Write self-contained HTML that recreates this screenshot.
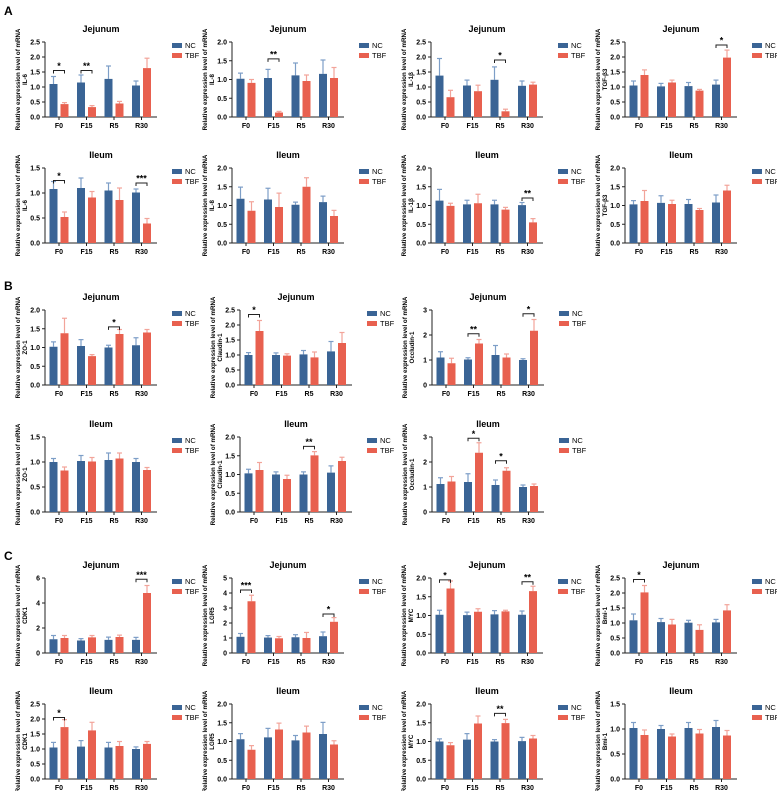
<!DOCTYPE html>
<html><head><meta charset="utf-8"><style>
body{margin:0;background:#fff;}
svg{display:block;font-family:"Liberation Sans",Arial,sans-serif;}
</style></head><body>
<svg id="fig" width="777" height="791" viewBox="0 0 777 791" xmlns="http://www.w3.org/2000/svg">
<text x="4" y="15" font-size="12" font-weight="bold">A</text>
<text x="4" y="290" font-size="12" font-weight="bold">B</text>
<text x="4" y="560" font-size="12" font-weight="bold">C</text>
</svg>
<script>
const categories = ["F0","F15","R5","R30"];
const titles = ["Jejunum","Jejunum","Jejunum","Jejunum","Ileum","Ileum","Ileum","Ileum",
"Jejunum","Jejunum","Jejunum","Ileum","Ileum","Ileum",
"Jejunum","Jejunum","Jejunum","Jejunum","Ileum","Ileum","Ileum","Ileum"];
const genes = ["IL-6","IL-8","IL-1β","TGF-β3","IL-6","IL-8","IL-1β","TGF-β3",
"ZO-1","Claudin-1","Occludin-1","ZO-1","Claudin-1","Occludin-1",
"CDK1","LGR5","MYC","Bmi-1","CDK1","LGR5","MYC","Bmi-1"];
const yMax = [2.5,2,2.5,2.5,1.5,2,2,2, 2,2.5,3,1.5,2,3, 6,5,2,2.5,2.5,2,2,1.5];
const yStep = [.5,.5,.5,.5,.5,.5,.5,.5, .5,.5,1,.5,.5,1, 2,1,.5,.5,.5,.5,.5,.5];
const ncMean = [
[1.1,1.15,1.27,1.05],[1.02,1.04,1.11,1.15],[1.38,1.05,1.24,1.04],[1.05,1.02,1.03,1.08],
[1.08,1.1,1.05,1.01],[1.18,1.16,1.02,1.09],[1.13,1.03,1.03,1.01],[1.03,1.07,1.04,1.08],
[1.02,1.04,1.0,1.06],[1.0,1.0,1.02,1.12],[1.1,1.02,1.2,1.0],
[1.0,1.02,1.04,1.0],[1.03,1.0,1.0,1.05],[1.12,1.2,1.08,1.0],
[1.1,1.0,1.05,1.05],[1.08,1.03,1.05,1.12],[1.02,1.01,1.03,1.02],[1.09,1.03,1.01,1.02],
[1.05,1.08,1.05,1.0],[1.06,1.11,1.03,1.2],[1.0,1.05,1.0,1.01],[1.02,1.0,1.02,1.04]];
const ncErr = [
[.25,.25,.43,.15],[.15,.23,.33,.37],[.57,.18,.43,.16],[.15,.1,.12,.15],
[.15,.2,.15,.07],[.31,.3,.07,.16],[.3,.11,.11,.07],[.1,.19,.12,.2],
[.13,.17,.06,.2],[.08,.07,.13,.33],[.23,.07,.38,.05],
[.07,.11,.14,.07],[.11,.07,.07,.18],[.25,.33,.2,.08],
[.3,.15,.22,.2],[.22,.13,.17,.28],[.12,.08,.1,.1],[.21,.12,.08,.1],
[.17,.2,.17,.07],[.15,.24,.13,.31],[.07,.16,.05,.1],[.11,.07,.11,.13]];
const tbfMean = [
[.43,.33,.45,1.63],[.91,.12,.96,1.04],[.66,.86,.19,1.08],[1.4,1.15,.88,1.98],
[.52,.91,.86,.39],[.86,.96,1.5,.72],[.99,1.06,.89,.55],[1.12,1.04,.88,1.4],
[1.38,.77,1.36,1.4],[1.8,.98,.92,1.4],[.87,1.66,1.1,2.17],
[.83,1.01,1.07,.84],[1.12,.88,1.51,1.36],[1.22,2.37,1.65,1.04],
[1.2,1.25,1.28,4.8],[3.45,.98,1.0,2.08],[1.72,1.1,1.11,1.65],[2.02,.95,.77,1.42],
[1.73,1.62,1.1,1.17],[.78,1.32,1.24,.92],[.9,1.48,1.49,1.08],[.88,.85,.91,.87]];
const tbfErr = [
[.05,.05,.07,.33],[.09,.03,.16,.28],[.23,.2,.07,.08],[.17,.08,.04,.25],
[.1,.12,.24,.1],[.24,.37,.24,.15],[.07,.24,.06,.1],[.28,.1,.04,.14],
[.4,.04,.12,.08],[.35,.06,.18,.35],[.2,.16,.14,.45],
[.07,.08,.11,.05],[.2,.1,.1,.1],[.2,.4,.12,.08],
[.2,.15,.15,.6],[.4,.12,.37,.28],[.2,.08,.03,.13],[.23,.17,.17,.19],
[.25,.27,.15,.08],[.11,.17,.17,.1],[.07,.2,.1,.08],[.1,.05,.08,.1]];
const sigGroup = [[0,1],[1],[2],[3],[0,3],[],[3],[], [2],[0],[1,3],[],[2],[1,2], [3],[0,3],[0,3],[0],[0],[],[2],[]];
const sigText = [["*","**"],["**"],["*"],["*"],["*","***"],[],["**"],[], ["*"],["*"],["**","*"],[],["**"],["*","*"], ["***"],["***","*"],["*","**"],["*"],["*"],[],["**"],[]];
const sigY = [[1.55,1.55],[1.55],[1.9],[2.4],[1.25,1.2],[],[1.2],[], [1.55],[2.35],[2.05,2.85],[],[1.75],[2.95,2.05], [5.9],[4.2,2.6],[1.95,1.9],[2.45],[2.05],[],[1.75],[]];

// layout (not data)
const ax = [45,232,431,625,45,232,431,625, 45,240,432,45,240,432, 45,232,431,625,45,232,431,625];
const ty = [42,42,42,42,168,168,168,168, 310,310,310,437,437,437, 578,578,578,578,704,704,704,704];
const H = 75, W = 112, GW = 27.5, BW = 8;
const NC = "#3a6495", TBF = "#e8604f", NCE = "#7d9ec7", TBFE = "#f2a49a";
const svg = document.getElementById('fig');
const NS = "http://www.w3.org/2000/svg";
function mk(tag, attrs, parent){const e=document.createElementNS(NS,tag);for(const k in attrs)e.setAttribute(k,attrs[k]);(parent||svg).appendChild(e);return e;}

for(let c=0;c<titles.length;c++){
  const g = mk('g',{});
  
  
  const x0=ax[c], y0=ty[c], yb=y0+H;
  const ys = v => yb - v/yMax[c]*H;
  const gx = i => x0 + 14 + GW*i;
  const t = mk('text',{x:x0+W/2,y:y0-10,'font-size':9,'font-weight':'bold','text-anchor':'middle'},g);
  t.textContent = titles[c];
  
  
  const cy = y0+H/2;
  const yl = mk('text',{x:0,y:0,'font-size':6.2,'font-weight':'bold','text-anchor':'middle',transform:`translate(${x0-25},${cy}) rotate(-90)`},g);
  yl.textContent='Relative expression level of mRNA';
  
  
  const yl2 = mk('text',{x:0,y:0,'font-size':6.2,'font-weight':'bold','text-anchor':'middle',transform:`translate(${x0-18},${cy}) rotate(-90)`},g);
  yl2.textContent=genes[c];
  
  
  mk('line',{x1:x0,y1:y0,x2:x0,y2:yb,stroke:'#222','stroke-width':1},g);
  mk('line',{x1:x0,y1:yb,x2:x0+W,y2:yb,stroke:'#222','stroke-width':1},g);
  const n = Math.round(yMax[c]/yStep[c]);
  for(let k=0;k<=n;k++){
    const v=k*yStep[c], y=ys(v);
    mk('line',{x1:x0-3,y1:y,x2:x0,y2:y,stroke:'#222','stroke-width':1},g);
    const tl=mk('text',{x:x0-5,y:y+2.5,'font-size':7,'font-weight':'bold','text-anchor':'end'},g);
    tl.textContent = yStep[c]<1 ? v.toFixed(1) : String(v);
    
    
  }
  for(let i=0;i<categories.length;i++){
    const cx=gx(i);
    mk('line',{x1:cx,y1:yb,x2:cx,y2:yb+3,stroke:'#222','stroke-width':1},g);
    const xl=mk('text',{x:cx,y:yb+11,'font-size':7,'font-weight':'bold','text-anchor':'middle'},g);
    xl.textContent=categories[i];
    
    
    [[ncMean,ncErr,NC,NCE,-5.5,'nc'],[tbfMean,tbfErr,TBF,TBFE,5.5,'tbf']].forEach(s=>{
      const m=s[0][c][i], e=s[1][c][i], bx=cx+s[4];
      const top=ys(m), et=ys(m+e);
      mk('line',{x1:bx,y1:top,x2:bx,y2:et,stroke:s[3],'stroke-width':1.2},g);
      mk('line',{x1:bx-2.5,y1:et,x2:bx+2.5,y2:et,stroke:s[3],'stroke-width':1.2},g);
      const r=mk('rect',{x:bx-BW/2,y:top,width:BW,height:yb-top,fill:s[2]},g);
      
      
    });
  }
  for(let j=0;j<sigGroup[c].length;j++){
    const cx=gx(sigGroup[c][j]), y=ys(sigY[c][j]);
    mk('path',{d:`M${cx-5.5},${y+3}V${y}H${cx+5.5}V${y+3}`,fill:'none',stroke:'#222','stroke-width':1},g);
    const st=mk('text',{x:cx,y:y-1.5,'font-size':9,'font-weight':'bold','text-anchor':'middle'},g);
    st.textContent=sigText[c][j];
    
    
  }
  const lx=x0+127;
  [['NC',NC,3],['TBF',TBF,13]].forEach(L=>{
    mk('rect',{x:lx,y:y0+L[2]-2,width:10,height:5,fill:L[1]},g);
    const lt=mk('text',{x:lx+13,y:y0+L[2]+3,'font-size':7.5},g);
    lt.textContent=L[0];
    
    
  });
}
</script>
</body></html>
